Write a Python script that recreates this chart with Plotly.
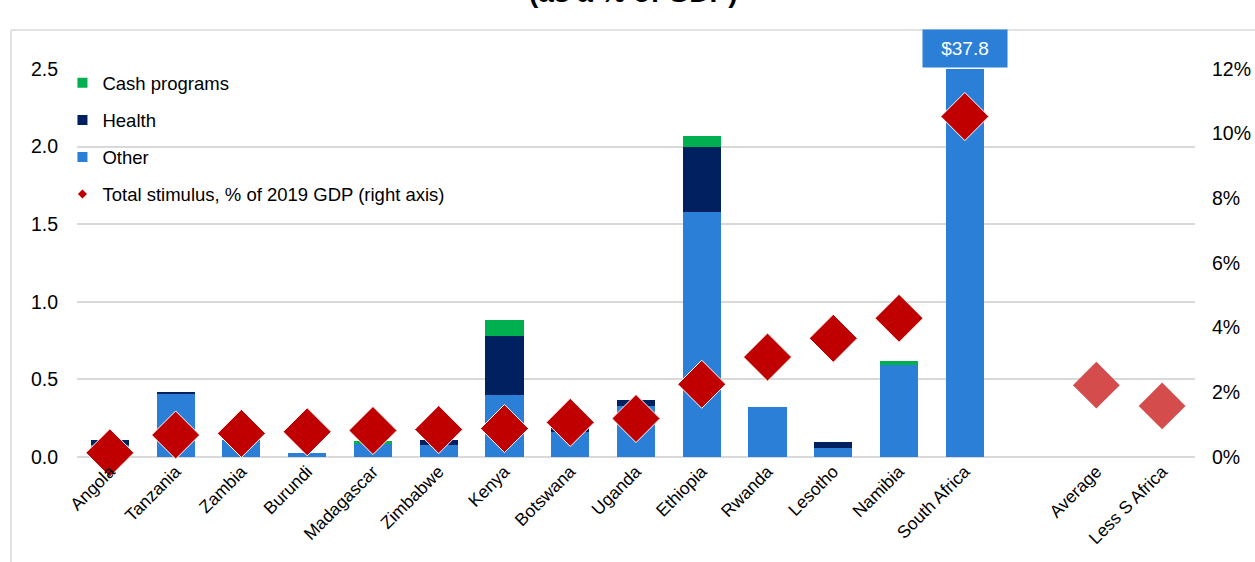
import plotly.graph_objects as go

# Countries on the category axis (a blank slot separates the aggregates)
countries = ["Angola", "Tanzania", "Zambia", "Burundi", "Madagascar", "Zimbabwe",
             "Kenya", "Botswana", "Uganda", "Ethiopia", "Rwanda", "Lesotho",
             "Namibia", "South Africa"]
aggregates = ["Average", "Less S Africa"]
categories = countries + [" "] + aggregates

# Stimulus components (left axis)
other = [0.08, 0.41, 0.11, 0.025, 0.09, 0.08, 0.40, 0.16, 0.33, 1.58, 0.32, 0.06, 0.59, 37.8]
health = [0.03, 0.01, 0.0, 0.0, 0.0, 0.03, 0.38, 0.03, 0.04, 0.42, 0.0, 0.035, 0.0, 0.0]
cash = [0.0, 0.0, 0.0, 0.0, 0.01, 0.0, 0.10, 0.0, 0.0, 0.07, 0.0, 0.0, 0.03, 0.0]

# Total stimulus, % of 2019 GDP (right axis)
total_pct = [0.13, 0.68, 0.73, 0.78, 0.82, 0.85, 0.88, 1.07, 1.19, 2.25, 3.09, 3.67, 4.29, 10.53]
aggregate_pct = [2.22, 1.58]

sa_label = "$37.8"
title_text = "<b>(as a % of GDP)</b>"

c_other = "#2B7FD6"
c_health = "#002060"
c_cash = "#00B050"
c_red = "#C00000"
c_hatch = "#D44C4C"
grid = "#D9D9D9"
font = "Liberation Sans, Arial, sans-serif"

fig = go.Figure()

for name, vals, col in [("Other", other, c_other), ("Health", health, c_health),
                        ("Cash programs", cash, c_cash)]:
    fig.add_trace(go.Bar(x=countries, y=vals, name=name, marker=dict(color=col, line=dict(width=0)),
                         showlegend=False, yaxis="y"))

fig.add_trace(go.Scatter(x=countries, y=total_pct, mode="markers", yaxis="y2", showlegend=False,
                         marker=dict(symbol="diamond", size=37, color=c_red,
                                     line=dict(color="white", width=1)), cliponaxis=False))
fig.add_trace(go.Scatter(x=aggregates, y=aggregate_pct, mode="markers", yaxis="y2", showlegend=False,
                         marker=dict(symbol="diamond", size=36, color=c_hatch,
                                     line=dict(color="white", width=0)), cliponaxis=False))

# Legend entries with small symbols
legend_items = [("Cash programs", "square", c_cash, 10),
                ("Health", "square", c_health, 10),
                ("Other", "square", c_other, 10),
                ("Total stimulus, % of 2019 GDP (right axis)", "diamond", c_red, 7)]
for i, (name, sym, col, sz) in enumerate(legend_items):
    fig.add_trace(go.Scatter(x=[None], y=[None], mode="markers", name=name, legendgroup=f"g{i}",
                             legendrank=i + 1,
                             marker=dict(symbol=sym, size=sz, color=col)))

fig.add_annotation(x="South Africa", y=2.5, xref="x", yref="y", text=sa_label, showarrow=False,
                   yanchor="bottom", bgcolor=c_other, width=80, height=33, borderpad=2, yshift=1,
                   font=dict(family=font, size=19, color="white"))

# Chart title, sitting at the very top edge
fig.add_annotation(x=0.497, y=1.152, xref="paper", yref="paper", text=title_text, showarrow=False,
                   xanchor="center", yanchor="bottom",
                   font=dict(family=font, size=28, color="#000000"))

# Outer frame of the chart panel
fig.add_shape(type="line", xref="paper", yref="paper", x0=-0.059, x1=-0.059, y0=-0.3, y1=1.1005,
              line=dict(color=grid, width=1.5))
fig.add_shape(type="line", xref="paper", yref="paper", x0=-0.059, x1=1.1, y0=1.1005, y1=1.1005,
              line=dict(color=grid, width=1.5))

fig.update_layout(
    width=1255, height=562,
    margin=dict(l=77, r=60, t=69, b=105),
    paper_bgcolor="white", plot_bgcolor="white",
    barmode="stack", bargap=0.42,
    font=dict(family=font, color="#000000"),
    xaxis=dict(type="category", categoryorder="array", categoryarray=categories,
               range=[-0.5, len(categories) - 0.5], tickangle=-45, showgrid=False,
               showline=False, ticks="", tickfont=dict(size=17.5), automargin=False),
    yaxis=dict(range=[0, 2.5], dtick=0.5, tickformat=".1f", showgrid=True, gridcolor=grid,
               gridwidth=2, zeroline=True, zerolinecolor=grid, zerolinewidth=2,
               tickfont=dict(size=19.5), ticks="", ticklabelstandoff=18, automargin=False),
    yaxis2=dict(range=[0, 12], dtick=2, ticksuffix="%", overlaying="y", side="right",
                showgrid=False, zeroline=False, tickfont=dict(size=19.5), ticks="",
                ticklabelstandoff=16, automargin=False),
    legend=dict(x=-0.013, y=1.012, xanchor="left", yanchor="top", traceorder="grouped",
                tracegroupgap=10, bgcolor="rgba(0,0,0,0)", font=dict(size=18.5)),
)

fig.write_html("out.html")
